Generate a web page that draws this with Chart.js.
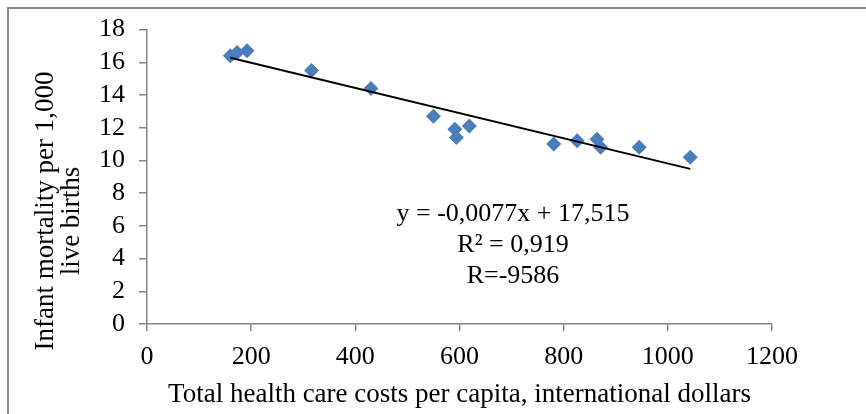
<!DOCTYPE html>
<html>
<head>
<meta charset="utf-8">
<script src="https://cdn.jsdelivr.net/npm/chart.js@4"></script>
<style>
    html, body { margin: 0; padding: 0; background: #fff; }
    #wrap { position: relative; width: 866px; height: 414px; overflow: hidden; }
    #frame {
        position: absolute; left: 7px; top: 7px; width: 900px; height: 500px;
        border-left: 2px solid #8c8c8c; border-top: 2px solid #8c8c8c;
    }
    #chart { position: absolute; left: 0; top: 0; }
</style>
</head>
<body>
<div id="wrap">
    <div id="frame"></div>
    <canvas id="chart" width="866" height="414"></canvas>
</div>
<script>
// --- Data ---
const costs = [160, 173, 192, 316, 430, 550, 591, 594, 619, 781, 826, 864, 871, 945, 1043];
const mortality = [16.4, 16.6, 16.7, 15.5, 14.4, 12.7, 11.9, 11.4, 12.1, 11.0, 11.2, 11.3, 10.8, 10.8, 10.2];
const slope = -0.0077;
const intercept = 17.515;
const xTicks = [0, 200, 400, 600, 800, 1000, 1200];
const yTicks = [0, 2, 4, 6, 8, 10, 12, 14, 16, 18];
const xTitle = 'Total health care costs per capita, international dollars';
const yTitle = ['Infant mortality per 1,000', 'live births'];
const equationLines = ['y = -0,0077x + 17,515', 'R\u00b2 = 0,919', 'R=-9586'];

const FONT = '"Liberation Serif", "Times New Roman", serif';

const points = costs.map((c, i) => ({ x: c, y: mortality[i] }));
const xMin = Math.min(...costs);
const xMaxData = Math.max(...costs);
const trend = [
    { x: xMin, y: slope * xMin + intercept },
    { x: xMaxData, y: slope * xMaxData + intercept }
];

// --- Texts drawn by hand (y title lines and equation box) ---
const textPlugin = {
    id: 'textPlugin',
    afterDraw(chart) {
        const ctx = chart.ctx;
        ctx.save();
        ctx.fillStyle = '#000';
        ctx.textAlign = 'center';
        ctx.textBaseline = 'alphabetic';

        // y title, rotated
        ctx.font = '27px ' + FONT;
        const yPos = [[53, 211], [79, 221]];
        yTitle.forEach((line, i) => {
            ctx.save();
            ctx.translate(yPos[i][0], yPos[i][1]);
            ctx.rotate(-Math.PI / 2);
            ctx.fillText(line, 0, 0);
            ctx.restore();
        });

        // regression text
        ctx.font = '26px ' + FONT;
        const baselines = [221, 252, 283];
        equationLines.forEach((line, i) => {
            ctx.fillText(line, 513, baselines[i]);
        });
        ctx.restore();
    }
};

const ctx = document.getElementById('chart').getContext('2d');
const chart = new Chart(ctx, {
    type: 'scatter',
    data: {
        datasets: [
            {
                label: 'Countries',
                data: points,
                pointStyle: 'rectRot',
                pointRadius: 7.5,
                pointHoverRadius: 7.5,
                backgroundColor: '#4a7ebb',
                borderColor: '#4a7ebb',
                borderWidth: 0,
                order: 2
            },
            {
                label: 'Trend',
                type: 'line',
                data: trend,
                borderColor: '#000',
                borderWidth: 2,
                pointRadius: 0,
                fill: false,
                order: 1
            }
        ]
    },
    options: {
        responsive: false,
        animation: false,
        devicePixelRatio: 1,
        layout: { padding: { left: 0, right: 94, top: 23, bottom: 0 } },
        plugins: {
            legend: { display: false },
            tooltip: { enabled: false }
        },
        scales: {
            x: {
                type: 'linear',
                min: xTicks[0],
                max: xTicks[xTicks.length - 1],
                afterBuildTicks: s => { s.ticks = xTicks.map(v => ({ value: v })); },
                afterFit: s => { s.height = 90; },
                grid: { drawOnChartArea: false, drawTicks: true, tickLength: 7, color: '#868686', lineWidth: 1.5 },
                border: { color: '#868686', width: 1.5 },
                ticks: {
                    color: '#000', font: { family: FONT, size: 26 }, padding: 11,
                    maxRotation: 0, autoSkip: false, callback: v => String(v)
                },
                title: {
                    display: true,
                    text: xTitle,
                    color: '#000',
                    font: { family: FONT, size: 27 },
                    padding: { top: 0, bottom: 3 }
                }
            },
            y: {
                min: yTicks[0],
                max: yTicks[yTicks.length - 1],
                afterBuildTicks: s => { s.ticks = yTicks.map(v => ({ value: v })); },
                afterFit: s => { s.width = 147; },
                grid: { drawOnChartArea: false, drawTicks: true, tickLength: 8, color: '#868686', lineWidth: 1.5 },
                border: { color: '#868686', width: 1.5 },
                ticks: {
                    color: '#000', font: { family: FONT, size: 26 }, padding: 14,
                    autoSkip: false, callback: v => String(v)
                }
            }
        }
    },
    plugins: [textPlugin]
});
</script>
</body>
</html>
